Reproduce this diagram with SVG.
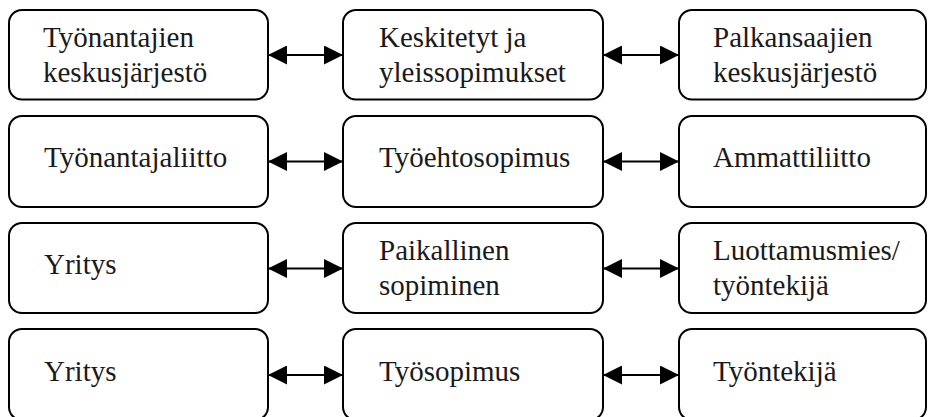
<svg xmlns="http://www.w3.org/2000/svg" width="928" height="417" viewBox="0 0 928 417">
<style>
.box{fill:#fff;stroke:#000;stroke-width:2}
.t{font-family:"Liberation Serif","Times New Roman",serif;font-size:29px;fill:#1a1a1a}
.c{stroke:#000;stroke-width:2;fill:none;marker-start:url(#ah);marker-end:url(#ah)}
</style>
<defs>
<marker id="ah" viewBox="0 0 19 19" refX="19" refY="9.5" markerWidth="19" markerHeight="19" markerUnits="userSpaceOnUse" orient="auto-start-reverse">
<path d="M0,0 L19,9.5 L0,19 Z" fill="#000"/>
</marker>
</defs>
<rect width="928" height="417" fill="#fff"/>
<g id="connectors">
<line class="c" x1="268" y1="55" x2="343" y2="55"/>
<line class="c" x1="603" y1="55" x2="679" y2="55"/>
<line class="c" x1="268" y1="161.5" x2="343" y2="161.5"/>
<line class="c" x1="603" y1="161.5" x2="679" y2="161.5"/>
<line class="c" x1="268" y1="268.5" x2="343" y2="268.5"/>
<line class="c" x1="603" y1="268.5" x2="679" y2="268.5"/>
<line class="c" x1="268" y1="375" x2="343" y2="375"/>
<line class="c" x1="603" y1="375" x2="679" y2="375"/>
</g>
<g id="n1a"><rect class="box" x="9" y="10" width="259" height="89.5" rx="13"/><text class="t" x="43" y="47">Työnantajien</text><text class="t" x="43" y="82">keskusjärjestö</text></g>
<g id="n1b"><rect class="box" x="343" y="10" width="260" height="89.5" rx="13"/><text class="t" x="379" y="47">Keskitetyt ja</text><text class="t" x="379" y="82">yleissopimukset</text></g>
<g id="n1c"><rect class="box" x="679" y="10" width="247" height="89.5" rx="13"/><text class="t" x="713" y="47">Palkansaajien</text><text class="t" x="713" y="82">keskusjärjestö</text></g>
<g id="n2a"><rect class="box" x="9" y="116" width="259" height="91" rx="13"/><text class="t" x="44" y="167">Työnantajaliitto</text></g>
<g id="n2b"><rect class="box" x="343" y="116" width="260" height="91" rx="13"/><text class="t" x="379" y="167">Työehtosopimus</text></g>
<g id="n2c"><rect class="box" x="679" y="116" width="247" height="91" rx="13"/><text class="t" x="713" y="167">Ammattiliitto</text></g>
<g id="n3a"><rect class="box" x="9" y="223" width="259" height="90" rx="13"/><text class="t" x="44" y="274">Yritys</text></g>
<g id="n3b"><rect class="box" x="343" y="223" width="260" height="90" rx="13"/><text class="t" x="379" y="260">Paikallinen</text><text class="t" x="379" y="295">sopiminen</text></g>
<g id="n3c"><rect class="box" x="679" y="223" width="247" height="90" rx="13"/><text class="t" x="713" y="260">Luottamusmies/</text><text class="t" x="713" y="295">työntekijä</text></g>
<g id="n4a"><rect class="box" x="9" y="329" width="259" height="91" rx="13"/><text class="t" x="44" y="381">Yritys</text></g>
<g id="n4b"><rect class="box" x="343" y="329" width="260" height="91" rx="13"/><text class="t" x="379" y="381">Työsopimus</text></g>
<g id="n4c"><rect class="box" x="679" y="329" width="247" height="91" rx="13"/><text class="t" x="713" y="381">Työntekijä</text></g>
</svg>
